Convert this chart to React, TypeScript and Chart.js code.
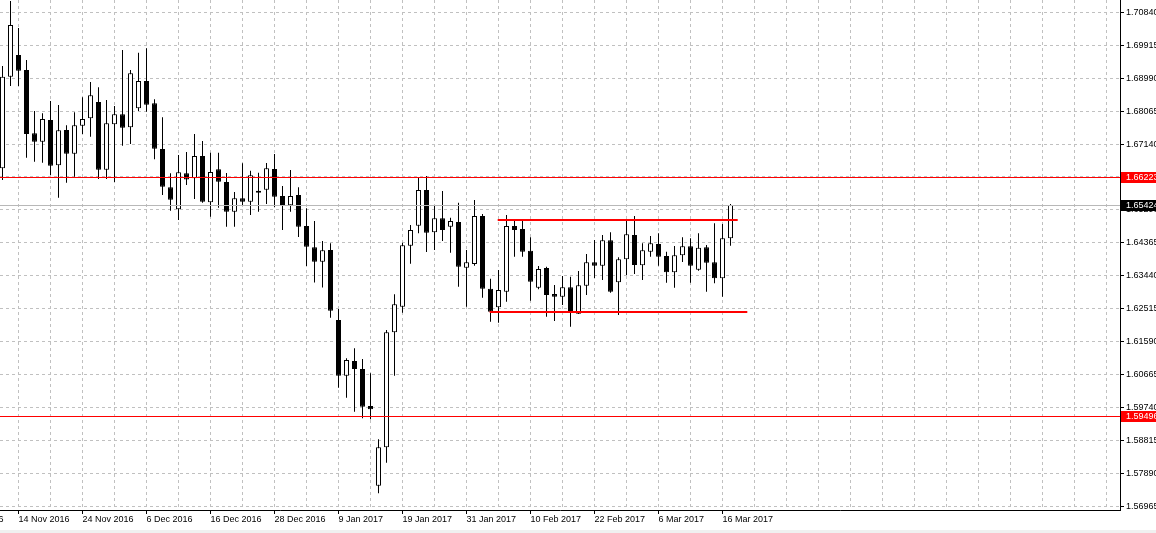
import { useEffect, useRef } from "react";
import { Chart, registerables } from "chart.js";

Chart.register(...registerables);

// Daily candles, index 0 = leftmost visible candle
const opens = [
  1.66458, 1.69031, 1.69641, 1.69219, 1.67441, 1.67205, 1.67815, 1.66542, 1.67534, 1.66868,
  1.67655, 1.67863, 1.6832, 1.66419, 1.67694, 1.67975, 1.6761, 1.68143, 1.6891, 1.68284,
  1.67, 1.65924, 1.65306, 1.66318, 1.66177, 1.66804, 1.65503, 1.6643, 1.66073, 1.65239,
  1.65615, 1.6552, 1.65829, 1.65857, 1.66438, 1.6568, 1.65419, 1.65708, 1.64837, 1.64239,
  1.63834, 1.64163, 1.62197, 1.60632, 1.61045, 1.6082, 1.59781, 1.57542, 1.58621, 1.61851,
  1.6257, 1.64284, 1.64846, 1.65848, 1.6466, 1.65053, 1.64818, 1.6495, 1.63666, 1.6377,
  1.65118, 1.63076, 1.62553, 1.62992, 1.64837, 1.64753, 1.64143, 1.63104, 1.63657, 1.62927,
  1.62851, 1.63115, 1.62374, 1.6316, 1.63817, 1.63722, 1.64436, 1.63256, 1.63902, 1.64584,
  1.63733, 1.64115, 1.64332, 1.63994, 1.63537, 1.64014, 1.64267, 1.6361, 1.6424, 1.63817,
  1.63368, 1.64492,
];
const highs = [
  1.69332, 1.71157, 1.70399, 1.695, 1.68068, 1.68003, 1.68348, 1.68236, 1.67666, 1.68031,
  1.68452, 1.68882, 1.68733, 1.68377, 1.68208, 1.69781, 1.69219, 1.69705, 1.69829, 1.68396,
  1.67893, 1.66318, 1.66832, 1.66916, 1.67422, 1.67225, 1.66896, 1.66896, 1.66326, 1.65792,
  1.66598, 1.66391, 1.66334, 1.66607, 1.6686, 1.65961, 1.6641, 1.65924, 1.65334, 1.64978,
  1.64416, 1.64351, 1.62506, 1.61121, 1.61402, 1.61101, 1.607, 1.58846, 1.61916, 1.62919,
  1.64368, 1.64865, 1.66205, 1.66242, 1.65427, 1.6582, 1.6507, 1.65492, 1.64163, 1.65568,
  1.65174, 1.63357, 1.63601, 1.65146, 1.65025, 1.65006, 1.6452, 1.63714, 1.63694, 1.6318,
  1.63433, 1.63413, 1.63573, 1.6405, 1.64444, 1.64584, 1.6466, 1.63958, 1.65006, 1.65118,
  1.64351, 1.64556, 1.64632, 1.64115, 1.64275, 1.6452, 1.64492, 1.64632, 1.64304, 1.64913,
  1.64893, 1.65455,
];
const lows = [
  1.66129, 1.6877, 1.6877, 1.66756, 1.66643, 1.66615, 1.6627, 1.65632, 1.66053, 1.66222,
  1.67422, 1.67346, 1.66157, 1.66157, 1.66073, 1.67093, 1.67141, 1.68068, 1.68048, 1.66711,
  1.65708, 1.65267, 1.65006, 1.65989, 1.65596, 1.65492, 1.65098, 1.65351, 1.64818, 1.64818,
  1.65427, 1.65146, 1.65239, 1.65455, 1.65362, 1.64725, 1.65239, 1.64531, 1.63714, 1.6325,
  1.6311, 1.62261, 1.60295, 1.60014, 1.59621, 1.59436, 1.59407, 1.57328, 1.58188, 1.60632,
  1.62402, 1.63779, 1.64632, 1.64107, 1.64163, 1.64416, 1.64087, 1.63132, 1.6257, 1.63722,
  1.62823, 1.62149, 1.62121, 1.62711, 1.63975, 1.63975, 1.62739, 1.63059, 1.6229, 1.62169,
  1.62618, 1.62008, 1.62365, 1.62899, 1.63376, 1.6332, 1.62964, 1.62337, 1.63461, 1.63489,
  1.6332, 1.63975, 1.63722, 1.63245, 1.63104, 1.63826, 1.63245, 1.63582, 1.62992, 1.63227,
  1.62851, 1.64284,
];
const closes = [
  1.69031, 1.70483, 1.692, 1.67422, 1.67205, 1.67843, 1.66531, 1.67525, 1.66868, 1.67666,
  1.67843, 1.68509, 1.66419, 1.67722, 1.67975, 1.67598, 1.69127, 1.6891, 1.68244, 1.67009,
  1.65941, 1.65576, 1.66346, 1.66143, 1.66803, 1.6552, 1.66354, 1.66082, 1.65239, 1.65615,
  1.6552, 1.66261, 1.65773, 1.66458, 1.6566, 1.65427, 1.6568, 1.64818, 1.64256, 1.63834,
  1.64154, 1.62458, 1.60632, 1.61073, 1.6082, 1.59761, 1.59688, 1.58621, 1.61851, 1.62638,
  1.64295, 1.64725, 1.65848, 1.64649, 1.65053, 1.64725, 1.64978, 1.63694, 1.63817, 1.65118,
  1.63076, 1.6243, 1.6304, 1.64837, 1.64725, 1.64115, 1.63273, 1.63629, 1.62899, 1.62851,
  1.63115, 1.62402, 1.63171, 1.63817, 1.63722, 1.64436, 1.62992, 1.63902, 1.64604, 1.63742,
  1.64154, 1.64351, 1.63975, 1.63537, 1.64014, 1.64267, 1.63722, 1.64228, 1.63806, 1.63368,
  1.64492, 1.65424,
];

// Date labels on the time axis (candle index where each label sits)
const dateTickIndex = [-6, 2, 10, 18, 26, 34, 42, 50, 58, 66, 74, 82, 90];
const dateTickLabels = [
  "2 Nov 2016", "14 Nov 2016", "24 Nov 2016", "6 Dec 2016", "16 Dec 2016", "28 Dec 2016",
  "9 Jan 2017", "19 Jan 2017", "31 Jan 2017", "10 Feb 2017", "22 Feb 2017", "6 Mar 2017",
  "16 Mar 2017",
];

// Price scale
const priceTicks = [
  1.7084, 1.69915, 1.6899, 1.68065, 1.6714, 1.66215, 1.6529, 1.64365, 1.6344, 1.62515,
  1.6159, 1.60665, 1.5974, 1.58815, 1.5789, 1.56965,
];
const priceMin = 1.5686;
const priceMax = 1.711855;
const indexMin = -0.3125;
const indexMax = 139.6875;

// Horizontal levels and current bid
const redLevels = [1.66223, 1.59496];
const bidPrice = 1.65424;

// Channel (range) lines: price, start index, end index
const channelPrices = [1.65011, 1.62421];
const channelStarts = [61.9, 60.9];
const channelEnds = [91.9, 93.1];

const FONT_FAMILY = "'Liberation Sans', Arial, sans-serif";

export default function App() {
  const ref = useRef<HTMLCanvasElement>(null);

  useEffect(() => {
    const canvas = ref.current;
    if (!canvas) return;
    const idx = opens.map((_, i) => i);
    const labelAt = new Map<number, string>(dateTickIndex.map((v, i) => [v, dateTickLabels[i]]));
    const xTickValues: number[] = [-6];
    for (let v = 2; v <= 138; v += 4) xTickValues.push(v);

    const overlay = {
      id: "overlay",
      beforeDraw(chart: any) {
        const c = chart.ctx as CanvasRenderingContext2D;
        c.save();
        c.fillStyle = "#ffffff";
        c.fillRect(0, 0, chart.width, chart.height);
        c.fillStyle = "#f0f0f0";
        c.fillRect(0, chart.height - 3, chart.width, 3);
        c.restore();
      },
      afterDatasetsDraw(chart: any) {
        const c = chart.ctx as CanvasRenderingContext2D;
        const xs = chart.scales.x;
        const ys = chart.scales.y;
        const a = chart.chartArea;
        c.save();
        c.beginPath();
        c.rect(a.left, a.top, a.right - a.left, a.bottom - a.top);
        c.clip();
        const hline = (price: number, x1: number, x2: number, color: string, w: number) => {
          const py = ys.getPixelForValue(price);
          const y = w % 2 === 1 ? Math.round(py) + 0.5 : Math.round(py);
          c.strokeStyle = color;
          c.lineWidth = w;
          c.beginPath();
          c.moveTo(x1, y);
          c.lineTo(x2, y);
          c.stroke();
        };
        hline(bidPrice, a.left, a.right, "#b8b8b8", 1);
        redLevels.forEach((p) => hline(p, a.left, a.right, "#ff0000", 1));
        channelPrices.forEach((p, i) =>
          hline(p, xs.getPixelForValue(channelStarts[i]), xs.getPixelForValue(channelEnds[i]), "#ff0000", 2)
        );
        c.restore();
      },
      afterDraw(chart: any) {
        const c = chart.ctx as CanvasRenderingContext2D;
        const xs = chart.scales.x;
        const ys = chart.scales.y;
        const a = chart.chartArea;
        c.save();
        // partially visible first date label at the left edge
        c.fillStyle = "#000000";
        c.font = `9px ${FONT_FAMILY}`;
        c.textAlign = "right";
        c.textBaseline = "middle";
        c.fillText(dateTickLabels[0], xs.getPixelForValue(dateTickIndex[0]) + 49, a.bottom + 9.5);
        const tag = (price: number, bg: string) => {
          const py = Math.round(ys.getPixelForValue(price));
          c.fillStyle = bg;
          c.fillRect(a.right + 1, py - 5, 40, 11);
          c.fillStyle = "#ffffff";
          c.textAlign = "left";
          c.fillText(price.toFixed(5), a.right + 6, py + 0.5);
        };
        redLevels.forEach((p) => tag(p, "#ff0000"));
        tag(bidPrice, "#000000");
        c.restore();
      },
    };

    const chart = new Chart(canvas, {
      type: "bar",
      data: {
        datasets: [
          {
            type: "bar",
            label: "body",
            data: idx.map((i) => ({ x: i, y: [opens[i], closes[i]] })) as any,
            backgroundColor: idx.map((i) => (closes[i] >= opens[i] ? "#ffffff" : "#000000")),
            borderColor: "#000000",
            borderWidth: 1,
            borderSkipped: false,
            barThickness: 5,
            grouped: false,
            inflateAmount: 0,
            order: 1,
          } as any,
          {
            type: "bar",
            label: "wick",
            data: idx.map((i) => ({ x: i, y: [lows[i], highs[i]] })) as any,
            backgroundColor: "#000000",
            borderWidth: 0,
            barThickness: 1,
            grouped: false,
            inflateAmount: 0,
            order: 2,
          } as any,
        ],
      },
      options: {
        responsive: false,
        animation: false,
        events: [],
        layout: { padding: 0 },
        plugins: {
          legend: { display: false },
          tooltip: { enabled: false },
          title: { display: false },
        },
        scales: {
          x: {
            type: "linear",
            position: "bottom",
            min: indexMin,
            max: indexMax,
            offset: false,
            afterBuildTicks: (s: any) => {
              s.ticks = xTickValues.map((v) => ({ value: v }));
            },
            afterFit: (s: any) => {
              s.height = 23;
              s.paddingLeft = 0;
              s.paddingRight = 0;
            },
            ticks: {
              callback: (v: any) => (Number(v) === dateTickIndex[0] ? "" : labelAt.get(Number(v)) ?? ""),
              font: { family: FONT_FAMILY, size: 9 },
              color: "#000000",
              padding: 0,
              align: "start",
              autoSkip: false,
              maxRotation: 0,
              minRotation: 0,
            },
            grid: {
              offset: false,
              color: "#c0c0c0",
              lineWidth: 1,
              tickColor: (ctx: any) =>
                ctx.tick && labelAt.has(ctx.tick.value) ? "#000000" : "rgba(0,0,0,0)",
              tickLength: 4,
              tickBorderDash: [],
            },
            border: { display: true, color: "#000000", width: 1, dash: [3, 3] },
          } as any,
          y: {
            type: "linear",
            position: "right",
            min: priceMin,
            max: priceMax,
            beginAtZero: false,
            afterBuildTicks: (s: any) => {
              s.ticks = priceTicks.map((v) => ({ value: v }));
            },
            afterFit: (s: any) => {
              s.width = 36;
              s.paddingTop = 0;
              s.paddingBottom = 0;
            },
            ticks: {
              callback: (v: any) => Number(v).toFixed(5),
              font: { family: FONT_FAMILY, size: 9 },
              color: "#000000",
              padding: 2,
              autoSkip: false,
            },
            grid: {
              color: "#c0c0c0",
              lineWidth: 1,
              tickColor: "#000000",
              tickLength: 4,
              tickBorderDash: [],
            },
            border: { display: true, color: "#000000", width: 1, dash: [3, 3] },
          } as any,
        },
      },
      plugins: [overlay],
    });

    return () => chart.destroy();
  }, []);

  return (
    <div style={{ position: "absolute", left: 0, top: 0, width: 1156, height: 533, background: "#ffffff" }}>
      <canvas ref={ref} width={1156} height={533} style={{ display: "block" }} />
    </div>
  );
}
